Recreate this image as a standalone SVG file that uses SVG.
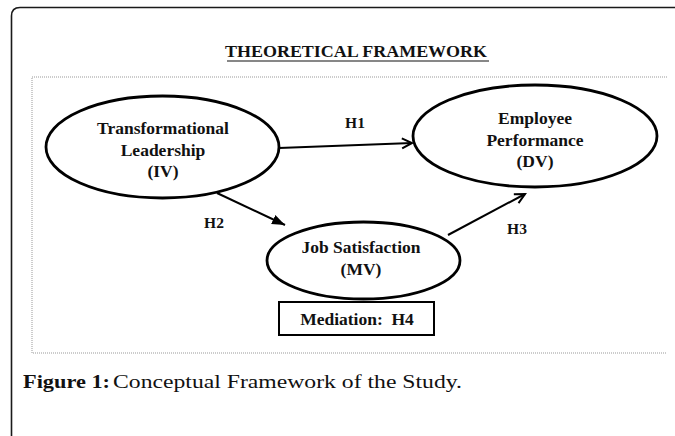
<svg xmlns="http://www.w3.org/2000/svg" width="675" height="436" viewBox="0 0 675 436">
<style>
.node{fill:#fff;stroke:#000;stroke-width:2.8}
.lbl{font-family:"Liberation Serif","Times New Roman",serif;font-weight:bold;font-size:17.5px;fill:#111;text-anchor:middle}
.h{font-family:"Liberation Serif","Times New Roman",serif;font-weight:bold;font-size:15.5px;fill:#111;text-anchor:middle}
.edge{stroke:#000;stroke-width:2;fill:none}
.cap{font-family:"Liberation Serif","Times New Roman",serif;font-size:18px;fill:#111}
</style>
<defs>
<marker id="open" markerUnits="userSpaceOnUse" markerWidth="14" markerHeight="14" refX="11" refY="6" orient="auto" viewBox="0 0 14 12">
<path d="M1,1 L11,6 L1,11" fill="none" stroke="#000" stroke-width="2"/>
</marker>
<marker id="filled" markerUnits="userSpaceOnUse" markerWidth="14" markerHeight="12" refX="13" refY="5" orient="auto" viewBox="0 0 14 10">
<path d="M0,0 L13,5 L0,10 Z" fill="#000"/>
</marker>
</defs>
<rect width="675" height="436" fill="#fff"/>
<path d="M11.5,436 V16 Q11.5,7.5 20,7.5 H675" fill="none" stroke="#1a1a1a" stroke-width="1.6"/>
<text x="356" y="57" font-family="'Liberation Serif','Times New Roman',serif" font-weight="bold" font-size="16" fill="#111" text-anchor="middle" textLength="262" lengthAdjust="spacingAndGlyphs">THEORETICAL FRAMEWORK</text>
<line x1="227" y1="61" x2="489" y2="61" stroke="#111" stroke-width="1.2"/>
<path d="M667,77 H32 V353 H667" fill="none" stroke="#999" stroke-width="1" stroke-dasharray="1,1"/>
<g id="connectors">
<line class="edge" x1="279" y1="148" x2="412" y2="143" marker-end="url(#open)"/>
<line class="edge" x1="217" y1="193" x2="285" y2="225" marker-end="url(#filled)"/>
<line class="edge" x1="448" y1="235" x2="525" y2="194" marker-end="url(#open)"/>
<text class="h" x="355" y="128">H1</text>
<text class="h" x="214" y="228">H2</text>
<text class="h" x="517" y="234">H3</text>
</g>
<g id="tl">
<ellipse class="node" cx="162.5" cy="147" rx="116.5" ry="51"/>
<text class="lbl" x="163" y="134">Transformational</text>
<text class="lbl" x="163" y="155.5">Leadership</text>
<text class="lbl" x="163" y="177">(IV)</text>
</g>
<g id="ep">
<ellipse class="node" cx="535" cy="136" rx="122" ry="51"/>
<text class="lbl" x="535" y="124">Employee</text>
<text class="lbl" x="535" y="145.5">Performance</text>
<text class="lbl" x="535" y="167">(DV)</text>
</g>
<g id="js">
<ellipse class="node" cx="363.5" cy="260.5" rx="96.5" ry="38.5"/>
<text class="lbl" x="361" y="253">Job Satisfaction</text>
<text class="lbl" x="361" y="275">(MV)</text>
</g>
<g id="med">
<rect x="279" y="302" width="155" height="33" fill="#fff" stroke="#000" stroke-width="2"/>
<text class="lbl" x="357" y="325" xml:space="preserve">Mediation:  H4</text>
</g>
<text class="cap" x="23" y="388" font-weight="bold" textLength="87" lengthAdjust="spacingAndGlyphs">Figure 1:</text>
<text class="cap" x="113" y="388" textLength="349" lengthAdjust="spacingAndGlyphs">Conceptual Framework of the Study.</text>
</svg>
